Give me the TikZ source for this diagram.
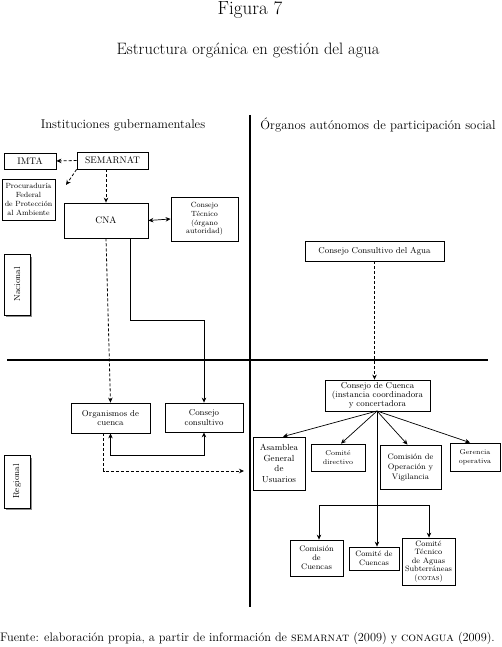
\documentclass[tikz,border=0pt]{standalone}
\usetikzlibrary{arrows.meta}
\begin{document}
\begin{tikzpicture}[x=1pt,y=-1pt,
  box/.style={draw, line width=0.8pt, fill=white, align=center, inner sep=1pt,
    font=\fontsize{8.6}{9.6}\selectfont},
  small/.style={font=\fontsize{7.5}{8.8}\selectfont},
  caps/.style={font=\fontsize{9.5}{11}\selectfont},
  lvl/.style={draw, line width=0.5pt, fill=white, rotate=90, inner sep=1pt,
    font=\fontsize{8.8}{10}\selectfont},
  arr/.style={-{Stealth[length=5pt,width=4.5pt]}},
  dbl/.style={{Stealth[length=5pt,width=4.5pt]}-{Stealth[length=5pt,width=4.5pt]}},
  conn/.style={line width=0.7pt},
  dsh/.style={line width=0.8pt, dash pattern=on 3pt off 2pt},
  divider/.style={line width=1.3pt},
  shade/.style={fill=black!45, draw=none}
]
\useasboundingbox (0,0) rectangle (501,647);

% titles
\node[font=\fontsize{19}{22}\selectfont] (fig) at (250,10) {Figura 7};
\node[font=\fontsize{16.5}{19}\selectfont] (title) at (248,50) {Estructura orgánica en gestión del agua};
\node[font=\fontsize{12.7}{15}\selectfont] (hleft) at (123,125) {Instituciones gubernamentales};
\node[font=\fontsize{12.8}{15}\selectfont] (hright) at (378,125) {Órganos autónomos de participación social};

% dividers
\coordinate (vtop) at (250,115);
\coordinate (vbot) at (250,607);
\coordinate (hlft) at (7,360);
\coordinate (hrgt) at (488,360);
\draw[divider] (vtop) -- (vbot);
\draw[divider] (hlft) -- (hrgt);

% level labels with shadows
\fill[shade] (6,257) rectangle (32,317);
\node[lvl, minimum width=61pt, minimum height=26pt] (nac) at (17,284.5) {Nacional};
\fill[shade] (6,458) rectangle (32,510);
\node[lvl, minimum width=53pt, minimum height=26pt] (reg) at (17,481.5) {Regional};

% left, national
\node[box, caps, minimum width=52pt, minimum height=16pt] (imta) at (30,161) {IMTA};
\node[box, caps, minimum width=71pt, minimum height=17pt] (sem) at (112.5,160.5) {SEMARNAT};
\node[box, small, minimum width=53pt, minimum height=41pt] (prof) at (28.5,199.5) {Procuraduría\\Federal\\de Protección\\al Ambiente};
\node[box, caps, minimum width=84pt, minimum height=35pt] (cna) at (106,220.5) {CNA};
\node[box, small, minimum width=67pt, minimum height=44pt] (ctec) at (204.5,219) {Consejo\\Técnico\\(órgano\\autoridad)};

% left, regional
\node[box, minimum width=79pt, minimum height=30pt] (org) at (110.5,418) {Organismos de\\cuenca};
\node[box, minimum width=78pt, minimum height=29pt] (ccons) at (204,417.5) {Consejo\\consultivo};

% right
\node[box, minimum width=139pt, minimum height=20pt] (cca) at (374.5,251) {Consejo Consultivo del Agua};
\node[box, minimum width=105pt, minimum height=31pt, inner sep=0.3pt, font=\fontsize{8.6}{9}\selectfont] (ccu) at (377.5,395.5) {Consejo de Cuenca\\(instancia coordinadora\\y concertadora};
\node[box, minimum width=52pt, minimum height=53pt, font=\fontsize{8.8}{10.5}\selectfont] (asam) at (279,463.5) {Asamblea\\General\\de\\Usuarios};
\node[box, minimum width=54pt, minimum height=27pt, font=\fontsize{7}{8.5}\selectfont] (cdir) at (338,457.5) {Comité\\directivo};
\node[box, minimum width=61pt, minimum height=44pt, font=\fontsize{8}{10}\selectfont] (cov) at (410.5,467) {Comisión de\\Operación y\\Vigilancia};
\node[box, minimum width=50pt, minimum height=28pt, font=\fontsize{7}{8.5}\selectfont] (ger) at (475,457) {Gerencia\\operativa};
\node[box, minimum width=53pt, minimum height=36pt, font=\fontsize{8}{9}\selectfont] (comc) at (316.5,558) {Comisión\\de\\Cuencas};
\node[box, minimum width=50pt, minimum height=23pt, font=\fontsize{7.8}{8.8}\selectfont] (cdc) at (374,558.5) {Comité de\\Cuencas};
\node[box, minimum width=53pt, minimum height=47pt, font=\fontsize{7.8}{8.4}\selectfont] (ctas) at (428.5,561.5) {Comité\\Técnico\\de Aguas\\Subterráneas\\(\textsc{cotas})};

% connectors, left
\coordinate (profend) at (66,185);
\draw[dsh, arr] (sem.west) -- (imta.east);
\draw[dsh, arr] (sem.south west) -- (profend);
\draw[dsh, arr] (cna.north |- sem.south) -- (cna.north);
\draw[conn, dbl] (cna.east) -- (ctec.west);
\draw[dsh, arr] (cna.south) -- (org.north);
\draw[conn, arr] ([xshift=24pt]cna.south) -- ++(0,82) -| (ccons.north);
\draw[conn, dbl] (org.south) -- ++(0,22) -| (ccons.south);
\coordinate (dashend) at (244,471);
\draw[dsh, arr] ([xshift=-7pt]org.south) |- (dashend);

% connectors, right
\draw[dsh, arr] (cca.south) -- (cca.south |- ccu.north);
\coordinate (ccb) at (377,411);
\draw[conn, arr] (ccb) -- ([xshift=4pt]asam.north);
\draw[conn, arr] (ccb) -- ([xshift=3pt]cdir.north);
\draw[conn, arr] (ccb) -- ([xshift=-3pt]cov.north);
\draw[conn, arr] (ccb) -- ([xshift=-5pt]ger.north);
\draw[conn, arr] (ccb) -- (ccb |- cdc.north);
\coordinate (hl) at (319,505);
\coordinate (hr) at (429,505);
\draw[conn] (hl) -- (hr);
\draw[conn, arr] (hl) -- (hl |- comc.north);
\draw[conn, arr] (hr) -- (hr |- ctas.north);

% source
\node[anchor=west, inner sep=0pt, font=\fontsize{12.3}{14}\selectfont] (src) at (0,638)
  {Fuente: elaboración propia, a partir de información de \textsc{semarnat} (2009) y \textsc{conagua} (2009).};
\end{tikzpicture}
\end{document}
